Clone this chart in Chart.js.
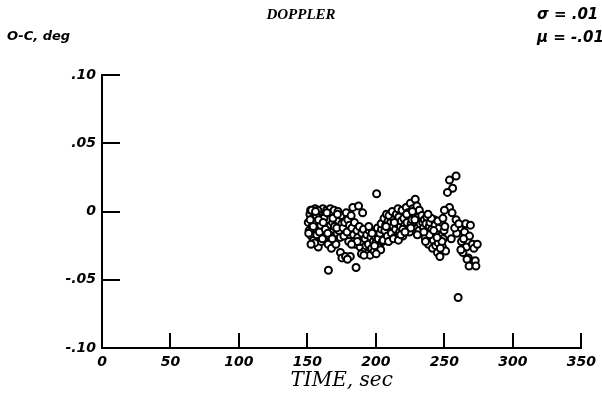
<!DOCTYPE html>
<html>
<head>
<meta charset="utf-8">
<title>DOPPLER O-C</title>
<script src="https://cdn.jsdelivr.net/npm/chart.js@4/dist/chart.umd.min.js"></script>
<style>
  html, body { margin: 0; padding: 0; background: #ffffff; }
  #wrap { width: 602px; height: 401px; position: relative; }
</style>
</head>
<body>
<div id="wrap"><canvas id="dopplerChart"></canvas></div>
<script>
// Residuals O-C (deg), time in seconds
const timeSec = [
  150.6,151.2,151.8,152.3,152.9,153.4,154.0,154.5,155.1,155.6,156.2,156.8,157.3,157.9,158.4,
  159.0,159.5,160.1,160.6,161.2,161.8,162.3,162.9,163.4,164.0,164.5,165.1,165.6,166.2,166.7,
  167.3,167.8,168.4,169.0,169.5,170.1,170.6,171.2,171.7,172.3,172.8,173.4,174.0,174.5,175.1,
  150.9,152.0,153.1,154.2,155.3,156.5,157.6,158.7,159.8,160.9,162.0,163.1,164.2,165.3,166.4,
  167.5,168.6,169.7,170.8,171.9,173.0,174.1,175.2,152.6,155.9,158.1,161.5,164.8,168.1,171.4,
  176.0,176.6,177.2,177.8,178.3,178.9,179.5,180.1,180.7,181.3,181.9,182.5,183.1,183.7,184.3,
  184.9,185.5,186.1,186.7,187.3,187.9,188.5,189.1,189.7,190.3,190.9,191.5,192.1,192.7,193.3,
  193.9,194.5,195.1,195.7,196.3,196.9,197.5,198.1,198.7,199.3,199.9,200.5,201.1,201.7,202.3,
  202.9,203.5,204.1,204.7,205.3,189.4,191.2,194.8,197.2,200.2,203.8,186.4,182.2,179.2,199.0,
  205.9,206.5,207.1,207.7,208.3,208.9,209.5,210.1,210.7,211.3,211.9,212.5,213.1,213.7,214.3,
  214.9,215.5,216.1,216.7,217.3,217.9,218.5,219.1,219.7,220.3,220.9,221.5,222.1,222.7,223.3,
  223.9,224.5,225.1,225.7,226.3,226.9,227.5,228.1,228.7,229.3,229.9,230.5,231.1,231.7,232.3,
  232.9,209.2,212.8,216.4,219.6,222.4,225.4,228.4,231.4,207.4,213.4,218.2,221.2,226.6,230.2,
  233.5,234.1,234.7,235.3,235.9,236.5,237.1,237.7,238.3,238.9,239.5,240.1,240.7,241.3,241.9,
  242.5,243.1,243.7,244.3,244.9,245.5,246.1,246.7,247.3,247.9,248.5,249.1,249.7,250.3,250.9,
  236.2,239.2,242.2,245.2,248.2,240.4,244.6,247.0,238.0,235.0,
  253.7,258.5,256.0,252.2,253.7,250.0,255.6,248.9,
  265.5,269.0,261.0,264.7,268.3,260.0,262.5,266.0,270.5,263.5,267.5,271.5,259.0,257.5,255.0,
  266.5,268.0,272.5,271.5,273.0,262.0,264.0,258.5,260.5,274.0
];
const residualDeg = [
  -0.008,-0.014,-0.002,0.001,-0.018,-0.011,-0.005,-0.021,-0.009,0.002,-0.013,-0.017,-0.004,-0.026,-0.010,
  0.000,-0.015,-0.022,-0.007,0.002,-0.012,-0.019,-0.003,-0.009,0.001,-0.014,-0.024,-0.006,-0.011,0.002,
  -0.017,-0.001,-0.008,-0.013,0.001,-0.021,-0.004,-0.010,-0.016,0.000,-0.007,-0.012,-0.019,-0.003,-0.009,
  -0.016,-0.006,0.001,-0.011,-0.023,-0.003,0.001,-0.015,-0.010,-0.020,-0.005,-0.013,-0.001,-0.043,-0.018,
  -0.027,-0.005,-0.011,-0.024,-0.002,-0.014,-0.030,-0.034,-0.024,0.000,-0.006,-0.008,-0.016,-0.020,-0.012,
  -0.012,-0.018,-0.008,-0.033,-0.001,-0.015,-0.006,-0.022,-0.010,-0.033,-0.003,-0.012,0.003,-0.017,-0.008,
  -0.024,-0.041,-0.014,-0.019,0.004,-0.011,-0.026,-0.022,-0.016,-0.001,-0.013,-0.029,-0.020,-0.025,-0.017,
  -0.031,-0.024,-0.014,-0.032,-0.019,-0.027,-0.015,-0.022,-0.029,-0.018,-0.023,0.013,-0.012,-0.020,-0.026,
  -0.016,-0.028,-0.013,-0.022,-0.021,-0.031,-0.032,-0.011,-0.016,-0.031,-0.009,-0.022,-0.024,-0.035,-0.025,
  -0.005,-0.014,-0.010,-0.002,-0.018,-0.007,-0.003,-0.012,-0.008,-0.016,0.000,-0.011,-0.006,-0.019,-0.013,
  -0.002,-0.009,0.002,-0.004,-0.015,-0.011,-0.007,0.001,-0.018,-0.005,-0.010,-0.013,0.003,-0.008,-0.001,
  -0.003,-0.015,0.006,-0.009,-0.006,0.002,-0.011,-0.002,0.009,-0.007,0.004,-0.012,-0.004,0.001,-0.009,
  -0.014,-0.022,-0.020,-0.021,-0.013,-0.002,-0.012,-0.006,-0.014,-0.011,-0.008,-0.017,-0.015,0.000,-0.017,
  -0.003,-0.008,-0.012,-0.006,-0.019,-0.009,-0.004,-0.015,-0.024,-0.011,-0.008,-0.018,-0.013,-0.027,-0.021,
  -0.006,-0.010,-0.025,-0.016,-0.030,-0.023,-0.012,-0.033,-0.018,-0.008,-0.026,-0.020,-0.014,-0.011,-0.029,
  -0.022,-0.017,-0.014,-0.007,-0.022,-0.005,-0.019,-0.027,-0.002,-0.015,
  0.023,0.026,0.017,0.014,0.003,0.001,-0.001,-0.005,
  -0.009,-0.010,-0.012,-0.015,-0.018,-0.063,-0.022,-0.026,-0.024,-0.030,-0.034,-0.037,-0.016,-0.012,-0.020,
  -0.035,-0.040,-0.036,-0.027,-0.040,-0.028,-0.020,-0.006,-0.009,-0.024
];

const xTickValues = [0, 50, 100, 150, 200, 250, 300, 350];
const yTickValues = [-0.10, -0.05, 0, 0.05, 0.10];
const yTickLabels = ['-.10', '-.05', '0', '.05', '.10'];

const titleText = 'DOPPLER';
const sigmaText = '\u03C3 = .01';
const muText = '\u03BC = -.01';

const labelFont = { family: "'DejaVu Sans', sans-serif", size: 14, style: 'italic', weight: 'bold' };

// ticks drawn inside the frame + title and side annotations
const insideTicks = {
  id: 'insideTicks',
  afterDraw(chart) {
    const ctx = chart.ctx;
    const xs = chart.scales.x;
    const ys = chart.scales.y;
    const area = chart.chartArea;
    ctx.save();
    ctx.strokeStyle = '#000';
    ctx.lineWidth = 2;
    ctx.beginPath();
    xTickValues.forEach(v => {
      if (v === xs.min) return;
      const px = Math.round(xs.getPixelForValue(v));
      ctx.moveTo(px, area.bottom);
      ctx.lineTo(px, area.bottom - 15);
    });
    yTickValues.forEach(v => {
      if (v === ys.min) return;
      const py = Math.round(ys.getPixelForValue(v));
      ctx.moveTo(area.left, py);
      ctx.lineTo(area.left + 18, py);
    });
    ctx.stroke();

    ctx.fillStyle = '#000';
    ctx.textBaseline = 'middle';
    ctx.textAlign = 'center';
    ctx.font = "italic bold 15px 'Liberation Serif'";
    ctx.fillText(titleText, 301, 15);
    ctx.textAlign = 'left';
    ctx.font = "italic bold 13px 'DejaVu Sans'";
    ctx.fillText('O-C, deg', 7, 37);
    ctx.font = "italic bold 15px 'DejaVu Sans'";
    ctx.fillText(sigmaText, 537, 15);
    ctx.fillText(muText, 537, 38);
    ctx.restore();
  }
};

document.addEventListener('DOMContentLoaded', function() {
  const points = timeSec.map((t, i) => ({ x: t, y: residualDeg[i] }));
  const ctx = document.getElementById('dopplerChart').getContext('2d');

  new Chart(ctx, {
    type: 'scatter',
    data: {
      datasets: [{
        label: 'O-C',
        data: points,
        pointStyle: 'circle',
        pointRadius: 3.5,
        pointBorderWidth: 2,
        pointBorderColor: '#000',
        pointBackgroundColor: '#fff'
      }]
    },
    options: {
      responsive: true,
      maintainAspectRatio: false,
      animation: false,
      devicePixelRatio: 1,
      layout: { padding: { left: 0, right: 16, top: 75, bottom: 0 } },
      plugins: {
        legend: { display: false },
        tooltip: { enabled: false },
        title: { display: false }
      },
      scales: {
        x: {
          type: 'linear',
          min: 0,
          max: 350,
          afterBuildTicks: scale => { scale.ticks = xTickValues.map(v => ({ value: v })); },
          afterFit: scale => { scale.height = 53; },
          grid: { display: false, drawTicks: false },
          border: { display: true, color: '#000', width: 2 },
          ticks: { color: '#000', font: labelFont, padding: 6, maxRotation: 0 },
          title: {
            display: true,
            text: 'TIME, sec',
            color: '#000',
            font: { family: "'DejaVu Serif', serif", size: 20, style: 'italic' },
            padding: { top: 0, bottom: 8 }
          }
        },
        y: {
          type: 'linear',
          min: -0.10,
          max: 0.10,
          afterBuildTicks: scale => { scale.ticks = yTickValues.map(v => ({ value: v })); },
          afterFit: scale => { scale.width = 102; },
          grid: { display: false, drawTicks: false },
          border: { display: true, color: '#000', width: 2 },
          ticks: {
            color: '#000',
            font: labelFont,
            padding: 6,
            callback: (value, index) => yTickLabels[index]
          }
        }
      }
    },
    plugins: [insideTicks]
  });
});
</script>
</body>
</html>
